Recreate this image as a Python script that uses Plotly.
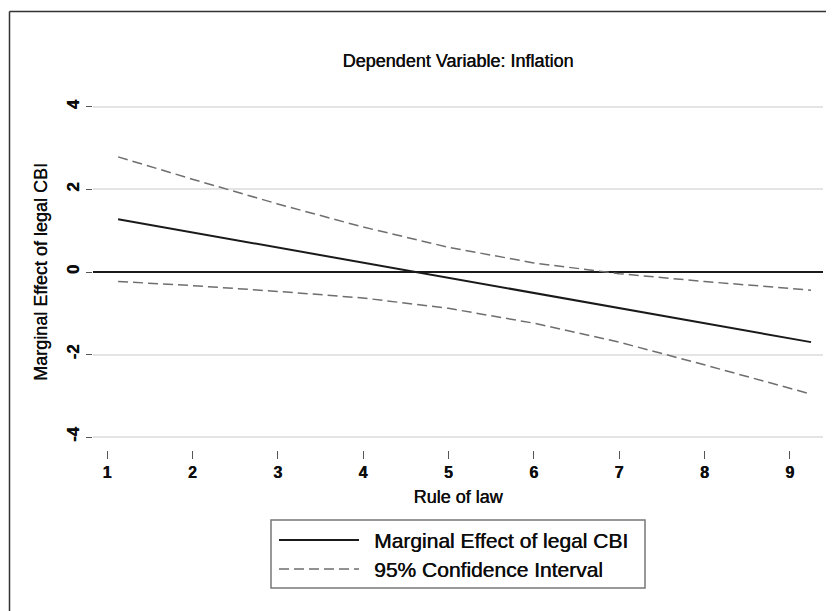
import plotly.graph_objects as go

# ---- data ----
rule_of_law = [1.13, 2, 3, 4, 5, 6, 7, 8, 9.25]
marginal_effect = [1.28, 0.96, 0.59, 0.23, -0.14, -0.51, -0.87, -1.24, -1.70]
ci_upper = [2.79, 2.25, 1.65, 1.09, 0.60, 0.22, -0.04, -0.23, -0.44]
ci_lower = [-0.23, -0.33, -0.47, -0.63, -0.88, -1.24, -1.70, -2.25, -2.96]
x_ticks = [1, 2, 3, 4, 5, 6, 7, 8, 9]
y_ticks = [-4, -2, 0, 2, 4]

title_text = "Dependent Variable: Inflation"
x_title = "Rule of law"
y_title = "Marginal Effect of legal CBI"
legend_labels = ["Marginal Effect of legal CBI", "95% Confidence Interval"]

# ---- layout geometry (pixels; the page body adds an 8px offset) ----
OFF = 8
W, H = 834 - OFF, 611 - OFF
L, R, T, B = 93 - OFF, 11, 101 - OFF, 161
PW = W - L - R
PH = H - T - B


def px(xp):
    return (xp - OFF - L) / PW


def py(yp):
    return (H - B - (yp - OFF)) / PH


FONT = "Liberation Sans, Arial, sans-serif"
TXT = "#0d0d0d"
HEAVY = "0.45px 0 0 #0d0d0d"
SOLID = "#1a1a1a"
DASHC = "#6e6e6e"
DASH = "10px,5px"


def tfont(size, bold=False):
    d = dict(size=size, family=FONT, color=TXT, shadow=HEAVY)
    if bold:
        d["weight"] = "bold"
    return d


fig = go.Figure()
fig.add_trace(go.Scatter(x=rule_of_law, y=marginal_effect, mode="lines",
                         line=dict(color=SOLID, width=2), showlegend=False))
fig.add_trace(go.Scatter(x=rule_of_law, y=ci_upper, mode="lines",
                         line=dict(color=DASHC, width=1.5, dash=DASH), showlegend=False))
fig.add_trace(go.Scatter(x=rule_of_law, y=ci_lower, mode="lines",
                         line=dict(color=DASHC, width=1.5, dash=DASH), showlegend=False))

fig.update_layout(
    width=W, height=H,
    margin=dict(l=L, r=R, t=T, b=B, pad=0),
    paper_bgcolor="white", plot_bgcolor="white",
    showlegend=False,
    font=dict(family=FONT, color=TXT),
    title=dict(text=title_text, x=0.5, xref="paper", xanchor="center",
               y=1 - (61 - OFF) / H, yref="container", yanchor="middle",
               font=tfont(18)),
    xaxis=dict(range=[0.836, 9.39], tickvals=x_ticks, ticktext=[str(v) for v in x_ticks],
               showgrid=False, zeroline=False, showline=False,
               ticks="outside", ticklen=8, tickwidth=1, tickcolor="#555555",
               tickfont=tfont(16, bold=True),
               anchor="free", position=0,
               title=dict(text=x_title, font=tfont(18), standoff=10)),
    yaxis=dict(range=[-4.145, 4.145], tickvals=y_ticks, ticktext=[str(v) for v in y_ticks],
               domain=[7 / PH, 1],
               showgrid=True, gridcolor="#e4e4e4", gridwidth=1.5,
               zeroline=True, zerolinecolor=SOLID, zerolinewidth=2,
               showline=False, ticks="outside", ticklen=6, tickwidth=1, tickcolor="#555555",
               tickangle=-90,
               tickfont=tfont(17, bold=True),
               title=dict(text=y_title, font=tfont(18), standoff=11)),
)

# outer frame (top and left edges only, as in the cropped reference)
fig.add_shape(type="line", xref="paper", yref="paper",
              x0=px(9.5), x1=px(850), y0=py(11.5), y1=py(11.5),
              line=dict(color="#333333", width=1.5))
fig.add_shape(type="line", xref="paper", yref="paper",
              x0=px(9.5), x1=px(9.5), y0=py(11.5), y1=py(630),
              line=dict(color="#333333", width=1.5))

# legend box
fig.add_shape(type="rect", xref="paper", yref="paper",
              x0=px(271), x1=px(645), y0=py(520), y1=py(588),
              line=dict(color="#777777", width=1.5), fillcolor="white")
fig.add_shape(type="line", xref="paper", yref="paper",
              x0=px(279), x1=px(359), y0=py(540), y1=py(540),
              line=dict(color=SOLID, width=2))
fig.add_shape(type="line", xref="paper", yref="paper",
              x0=px(279), x1=px(359), y0=py(569), y1=py(569),
              line=dict(color=DASHC, width=1.5, dash=DASH))
for lab, yp in zip(legend_labels, [540, 569]):
    fig.add_annotation(text=lab, xref="paper", yref="paper", x=px(372), y=py(yp),
                       xanchor="left", yanchor="middle", showarrow=False,
                       font=tfont(21))

fig.write_html("out.html")
